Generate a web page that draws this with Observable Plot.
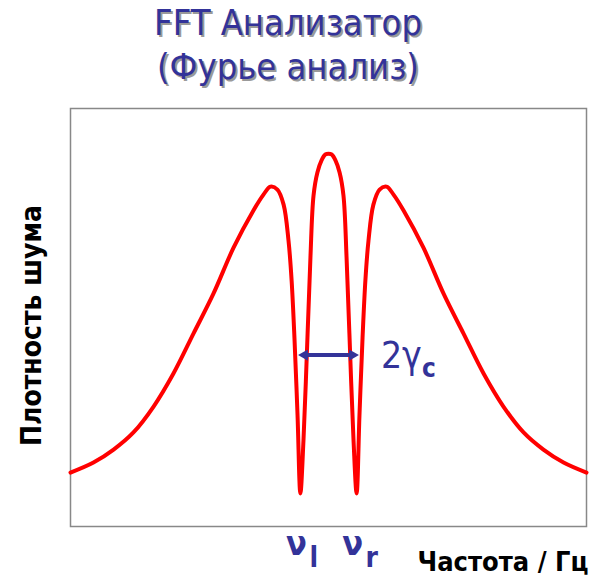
<!DOCTYPE html>
<html><head><meta charset="utf-8">
<script src="https://cdn.jsdelivr.net/npm/d3@7"></script>
<script src="https://cdn.jsdelivr.net/npm/@observablehq/plot@0.6"></script>
<style>
html,body{margin:0;padding:0;background:#fff;}
body{width:602px;height:575px;overflow:hidden;}
#title{width:576px;height:95px;box-sizing:border-box;padding-top:1px;text-align:center;font-family:"DejaVu Sans Condensed","DejaVu Sans",sans-serif;font-size:36px;line-height:44px;color:#333399;text-shadow:2px 2px 0 #9a9a9a;white-space:nowrap;}
</style>
</head><body>
<div id="title">FFT Анализатор<br>(Фурье анализ)</div>
<div id="chart"></div>
<script>
// frequency (arbitrary units, 0 = line centre) and noise density (arbitrary units)
const freq = [-10.0,-9.11,-8.33,-7.56,-6.78,-6.01,-5.23,-4.46,-3.68,-2.91,-2.52,-2.25,-1.98,-1.74,-1.55,-1.43,-1.32,-1.20,-1.09,-0.97,-0.81,-0.70,-0.58,-0.43,-0.27,-0.12,0,
  0.12,0.27,0.43,0.58,0.70,0.81,0.97,1.09,1.20,1.32,1.43,1.55,1.74,1.98,2.25,2.52,2.91,3.68,4.46,5.23,6.01,6.78,7.56,8.33,9.11,10.0];
const density = [12.9,15.3,18.4,22.5,28.7,36.6,46.2,55.7,66.7,75.6,79.4,81.3,80.6,77.0,68.4,58.9,45.2,26.6,7.9,20.6,46.2,64.4,79.2,84.7,87.6,89.0,89.2,
  89.0,87.6,84.7,79.2,64.4,46.2,20.6,7.9,26.6,45.2,58.9,68.4,77.0,80.6,81.3,79.4,75.6,66.7,55.7,46.2,36.6,28.7,22.5,18.4,15.3,12.9];

const dipFreq = [-1.09, 1.09];
const dipSymbol = ["ν", "ν"];
const dipSub = ["l", "r"];
const spanFreq = [-1.14, 1.14];
const spanLevel = 41;
const spanLabel = "2γ";
const spanSub = "c";
const xLabel = "Частота / Гц";
const yLabel = "Плотность шума";

const data = freq.map((f, i) => ({f, d: density[i]}));
const dips = dipFreq.map((f, i) => ({f, s: dipSymbol[i], sub: dipSub[i]}));
const blue = "#333399";
const font = '"DejaVu Sans Condensed","DejaVu Sans",sans-serif';
const headLen = 0.3;

const chart = Plot.plot({
  width: 602, height: 480,
  marginLeft: 70, marginRight: 16, marginTop: 13, marginBottom: 49,
  x: {domain: [-10, 10], axis: null},
  y: {domain: [0, 100], axis: null},
  style: {fontFamily: font, background: "white", overflow: "visible"},
  marks: [
    Plot.frame({stroke: "#888", strokeWidth: 1.5}),
    Plot.line(data, {x: "f", y: "d", stroke: "#ff0000", strokeWidth: 4, curve: "catmull-rom", strokeLinejoin: "round"}),
    Plot.ruleY([spanLevel], {x1: spanFreq[0] + headLen, x2: spanFreq[1] - headLen, stroke: blue, strokeWidth: 4}),
    Plot.dot([spanFreq[0]], {x: d => d, y: () => spanLevel, symbol: "triangle", r: 4.2, fill: blue, stroke: "none", rotate: -90, dx: 5.5}),
    Plot.dot([spanFreq[1]], {x: d => d, y: () => spanLevel, symbol: "triangle", r: 4.2, fill: blue, stroke: "none", rotate: 90, dx: -5.5}),
    Plot.text([spanLabel], {x: spanFreq[1], y: spanLevel, text: d => d, textAnchor: "start", lineAnchor: "middle", dx: 23, dy: 1, fill: blue, fontSize: 37}),
    Plot.text([spanSub], {x: spanFreq[1], y: spanLevel, text: d => d, textAnchor: "start", lineAnchor: "middle", dx: 64, dy: 14, fill: blue, fontSize: 26, fontWeight: "bold"}),
    Plot.text(dips, {x: "f", y: () => 0, text: "s", textAnchor: "middle", lineAnchor: "bottom", dx: -4, dy: 28, fill: blue, fontSize: 34, fontWeight: "bold"}),
    Plot.text(dips, {x: "f", y: () => 0, text: "sub", textAnchor: "start", lineAnchor: "bottom", dx: 9, dy: 40, fill: blue, fontSize: 28, fontWeight: "bold"}),
    Plot.text([xLabel], {frameAnchor: "bottom-right", text: d => d, textAnchor: "end", lineAnchor: "bottom", dx: 2, dy: 44, fill: "black", fontSize: 27, fontWeight: "bold"}),
    Plot.text([yLabel], {frameAnchor: "left", text: d => d, textAnchor: "middle", lineAnchor: "middle", rotate: -90, dx: -38, dy: 8, fill: "black", fontSize: 28, fontWeight: "bold"})
  ]
});
document.getElementById("chart").append(chart);
</script>
</body></html>
